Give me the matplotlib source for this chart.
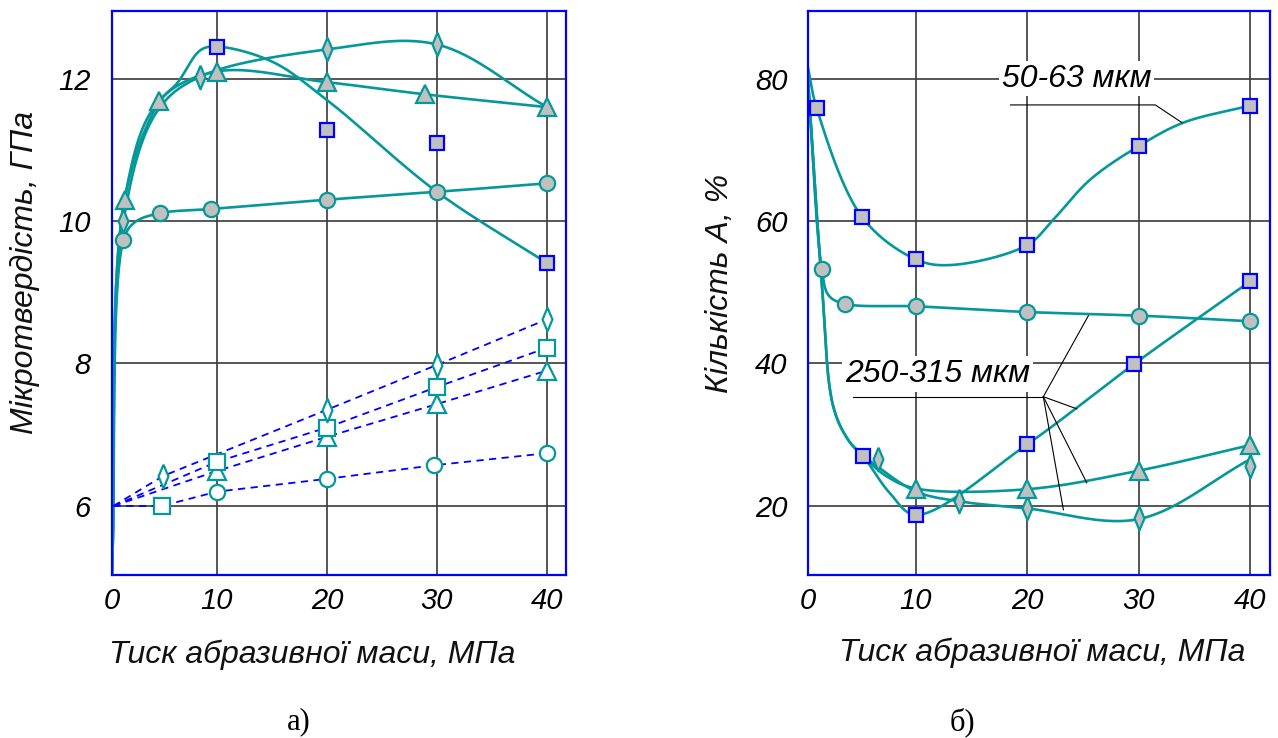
import numpy as np
import matplotlib
matplotlib.use("Agg")
import matplotlib.pyplot as plt

# ---------------- data, panel a) ----------------
# filled markers (solid curves)
a_sq_x = [10, 20, 30, 40]
a_sq_y = [12.45, 11.28, 11.09, 9.41]
a_tri_x = [1.6, 4.7, 10, 20, 28.9, 40]
a_tri_y = [10.3, 11.68, 12.1, 11.95, 11.78, 11.6]
a_dia_x = [1.5, 8.5, 20, 30]
a_dia_y = [10.0, 12.03, 12.41, 12.48]
a_cir_x = [1.5, 4.8, 9.5, 20, 30, 40]
a_cir_y = [9.73, 10.11, 10.17, 10.3, 10.41, 10.53]

# knots of the smooth solid curves
a_sq_cx = [0.45, 1.6, 4.7, 6.4, 8.5, 10, 15, 20, 30, 40]
a_sq_cy = [5.0, 10.3, 11.66, 11.94, 12.4, 12.45, 12.24, 11.7, 10.41, 9.41]
a_tri_cx = [0.45, 1.6, 4.7, 10, 20, 28.9, 40]
a_tri_cy = [5.0, 10.3, 11.68, 12.1, 11.95, 11.78, 11.6]
a_dia_cx = [0.45, 1.5, 4.6, 8.5, 20, 30, 40]
a_dia_cy = [5.0, 10.0, 11.55, 12.03, 12.41, 12.48, 11.6]
a_cir_cx = [0.45, 1.5, 2.5, 4.8, 9.5, 20, 30, 40]
a_cir_cy = [5.0, 9.73, 9.98, 10.11, 10.17, 10.3, 10.41, 10.53]

# open markers (dashed lines)
a_osq_x = [5, 10, 20, 30, 40]
a_osq_y = [6.0, 6.62, 7.1, 7.67, 8.22]
a_otri_x = [10, 20, 30, 40]
a_otri_y = [6.49, 6.97, 7.43, 7.9]
a_odia_x = [5.1, 20, 30, 40]
a_odia_y = [6.42, 7.35, 7.98, 8.62]
a_ocir_x = [10, 20, 29.7, 40]
a_ocir_y = [6.2, 6.38, 6.57, 6.74]

a_osq_lx = [0.6, 10, 20, 30, 40]
a_osq_ly = [6.0, 6.62, 7.1, 7.67, 8.22]
a_otri_lx = [0.6, 10, 20, 30, 40]
a_otri_ly = [6.0, 6.49, 6.97, 7.43, 7.9]
a_odia_lx = [0.6, 5.1, 20, 30, 40]
a_odia_ly = [6.0, 6.42, 7.35, 7.98, 8.62]
a_ocir_lx = [0.6, 5, 10, 20, 29.7, 40]
a_ocir_ly = [6.0, 6.0, 6.2, 6.38, 6.57, 6.74]

# ---------------- data, panel б) ----------------
b_sq1_x = [1.1, 5.2, 10, 20, 30, 40]
b_sq1_y = [75.9, 60.5, 54.6, 56.6, 70.5, 76.2]
b_sq2_x = [5.3, 10, 20, 29.6, 40]
b_sq2_y = [26.9, 18.7, 28.6, 39.9, 51.5]
b_cir_x = [1.56, 3.65, 10, 20, 30, 40]
b_cir_y = [53.3, 48.35, 48.0, 47.2, 46.7, 45.9]
b_tri_x = [10, 20, 30, 40]
b_tri_y = [22.4, 22.3, 24.9, 28.5]
b_dia_x = [6.6, 13.9, 20, 30, 40]
b_dia_y = [26.6, 20.6, 19.6, 18.2, 25.5]

b_sq1_cx = [0.27, 1.1, 5.2, 10, 13.1, 20, 22.35, 25.65, 30, 34, 40]
b_sq1_cy = [82.0, 75.9, 60.5, 54.6, 53.8, 56.6, 60.2, 65.8, 70.5, 73.8, 76.2]
b_sq2_cx = [0.3, 1.55, 2.6, 3.95, 5.3, 7.7, 10, 20, 29.6, 40]
b_sq2_cy = [80.5, 51.7, 33.9, 29.2, 26.9, 21.7, 18.7, 28.6, 39.9, 51.5]
b_cir_cx = [0.3, 1.56, 2.2, 3.65, 10, 20, 30, 40]
b_cir_cy = [80.5, 53.3, 49.5, 48.35, 48.0, 47.2, 46.7, 45.9]
b_tri_cx = [0.3, 1.55, 2.6, 3.95, 5.3, 7.4, 10, 20, 30, 40]
b_tri_cy = [80.5, 51.7, 33.9, 29.2, 26.9, 24.1, 22.4, 22.3, 24.9, 28.5]
b_dia_cx = [5.3, 10, 13.9, 20, 30, 40]
b_dia_cy = [26.9, 22.0, 20.6, 19.6, 18.1, 26.5]

x_ticks = [10, 20, 30, 40]
a_yticks = [6, 8, 10, 12]
b_yticks = [20, 40, 60, 80]

teal = "#05989a"
blue = "#0000ff"
grey = "#c0c0c0"
dia_mark = [(0, 1), (0.42, 0), (0, -1), (-0.42, 0), (0, 1)]


def catmull(xs, ys, sx, sy, n=40):
    # centripetal catmull-rom in screen-like units
    P = np.column_stack([np.asarray(xs, float) * sx, np.asarray(ys, float) * sy])
    P = np.vstack([2 * P[0] - P[1], P, 2 * P[-1] - P[-2]])
    out = []
    for i in range(1, len(P) - 2):
        p0, p1, p2, p3 = P[i - 1], P[i], P[i + 1], P[i + 2]
        t0 = 0.0
        t1 = t0 + np.linalg.norm(p1 - p0) ** 0.5 + 1e-9
        t2 = t1 + np.linalg.norm(p2 - p1) ** 0.5 + 1e-9
        t3 = t2 + np.linalg.norm(p3 - p2) ** 0.5 + 1e-9
        t = np.linspace(t1, t2, n)[:, None]
        a1 = (t1 - t) / (t1 - t0) * p0 + (t - t0) / (t1 - t0) * p1
        a2 = (t2 - t) / (t2 - t1) * p1 + (t - t1) / (t2 - t1) * p2
        a3 = (t3 - t) / (t3 - t2) * p2 + (t - t2) / (t3 - t2) * p3
        b1 = (t2 - t) / (t2 - t0) * a1 + (t - t0) / (t2 - t0) * a2
        b2 = (t3 - t) / (t3 - t1) * a2 + (t - t1) / (t3 - t1) * a3
        c = (t2 - t) / (t2 - t1) * b1 + (t - t1) / (t2 - t1) * b2
        out.append(c)
    out = np.vstack(out)
    return out[:, 0] / sx, out[:, 1] / sy


plt.rcParams['font.family'] = ['Liberation Sans', 'DejaVu Sans']
plt.rcParams['font.style'] = 'italic'

fig = plt.figure(figsize=(12.78, 7.38), dpi=100)
ax1 = fig.add_axes([0.0874, 0.2209, 0.3552, 0.7642])
ax2 = fig.add_axes([0.6325, 0.2209, 0.3613, 0.7642])

ax1.set_xlim(0.43, 41.7)
ax1.set_ylim(5.03, 12.95)
ax1.set_yticks(a_yticks)
ax2.set_xlim(0.36, 41.8)
ax2.set_ylim(10.25, 89.5)
ax2.set_yticks(b_yticks)

for ax in (ax1, ax2):
    for s in ax.spines.values():
        s.set_color(blue)
        s.set_linewidth(1.6)
    ax.set_axisbelow(True)
    ax.grid(True, color="#3a3a3a", lw=1.2)
    ax.tick_params(length=0, labelsize=21)
    ax.tick_params(axis="x", pad=9)
    ax.tick_params(axis="y", pad=15)
    # the "0" label sits on the left spine
    x0 = ax.get_xlim()[0]
    ax.set_xticks([x0] + x_ticks)
    ax.set_xticklabels(["0"] + [str(v) for v in x_ticks])

# ---- panel a
sx1, sy1 = 11.0, 71.2

for cx, cy in [(a_cir_cx, a_cir_cy), (a_dia_cx, a_dia_cy), (a_tri_cx, a_tri_cy), (a_sq_cx, a_sq_cy)]:
    xx, yy = catmull(cx, cy, sx1, sy1)
    ax1.plot(xx, yy, color=teal, lw=1.9, zorder=2)

for lx, ly in [(a_ocir_lx, a_ocir_ly), (a_otri_lx, a_otri_ly), (a_osq_lx, a_osq_ly), (a_odia_lx, a_odia_ly)]:
    ax1.plot(lx, ly, color=blue, lw=1.3, ls=(0, (4, 3)), zorder=2)

ax1.plot(a_cir_x, a_cir_y, ls="none", marker="o", ms=11, mfc=grey, mec=teal, mew=1.6, zorder=3)
ax1.plot(a_dia_x, a_dia_y, ls="none", marker=dia_mark, ms=17, mfc=grey, mec=teal, mew=1.6, zorder=3)
ax1.plot(a_tri_x, a_tri_y, ls="none", marker="^", ms=13, mfc=grey, mec=teal, mew=1.6, zorder=4)
ax1.plot(a_sq_x, a_sq_y, ls="none", marker="s", ms=10, mfc=grey, mec=blue, mew=1.6, zorder=4)

ax1.plot(a_ocir_x, a_ocir_y, ls="none", marker="o", ms=11, mfc="white", mec=teal, mew=1.6, zorder=3)
ax1.plot(a_otri_x, a_otri_y, ls="none", marker="^", ms=13, mfc="white", mec=teal, mew=1.6, zorder=3)
ax1.plot(a_osq_x, a_osq_y, ls="none", marker="s", ms=11, mfc="white", mec=teal, mew=1.6, zorder=3)
ax1.plot(a_odia_x, a_odia_y, ls="none", marker=dia_mark, ms=17, mfc="white", mec=teal, mew=1.6, zorder=3)

# ---- panel б
sx2, sy2 = 11.14, 7.11

for cx, cy in [(b_sq1_cx, b_sq1_cy), (b_sq2_cx, b_sq2_cy), (b_cir_cx, b_cir_cy),
               (b_tri_cx, b_tri_cy), (b_dia_cx, b_dia_cy)]:
    xx, yy = catmull(cx, cy, sx2, sy2)
    ax2.plot(xx, yy, color=teal, lw=1.9, zorder=2)

ax2.plot(b_cir_x, b_cir_y, ls="none", marker="o", ms=11, mfc=grey, mec=teal, mew=1.6, zorder=3)
ax2.plot(b_dia_x, b_dia_y, ls="none", marker=dia_mark, ms=17, mfc=grey, mec=teal, mew=1.6, zorder=3)
ax2.plot(b_tri_x, b_tri_y, ls="none", marker="^", ms=13, mfc=grey, mec=teal, mew=1.6, zorder=3)
ax2.plot(b_sq1_x, b_sq1_y, ls="none", marker="s", ms=10, mfc=grey, mec=blue, mew=1.6, zorder=4)
ax2.plot(b_sq2_x, b_sq2_y, ls="none", marker="s", ms=10, mfc=grey, mec=blue, mew=1.6, zorder=4)

# annotations
ax2.text(24.45, 80.0, "50-63 мкм", fontsize=23, ha="center", va="center", zorder=3,
         bbox=dict(facecolor="white", edgecolor="none", pad=2))
ax2.plot([18.5, 31.5, 33.9], [76.3, 76.3, 73.8], color="black", lw=0.8, zorder=3)

ax2.text(11.96, 38.45, "250-315 мкм", fontsize=23, ha="center", va="center", zorder=3,
         bbox=dict(facecolor="white", edgecolor="none", pad=2))
ax2.plot([4.4, 21.45], [35.3, 35.3], color="black", lw=0.8, zorder=3)
for ex, ey in [(25.5, 46.7), (24.45, 33.6), (25.35, 23.2), (23.25, 19.4)]:
    ax2.plot([21.45, ex], [35.3, ey], color="black", lw=0.8, zorder=3)

# axis labels and captions
lab = dict(fontsize=23, color="#111111", ha="center", va="center")
fig.text(312 / 1278, 1 - 655 / 738, "Тиск абразивної маси, МПа", **lab)
fig.text(1042 / 1278, 1 - 653 / 738, "Тиск абразивної маси, МПа", **lab)
fig.text(25 / 1278, 1 - 272 / 738, "Мікротвердість, ГПа", rotation=90, **lab)
fig.text(720 / 1278, 1 - 283 / 738, "Кількість А, %", rotation=90, **lab)

cap = dict(fontsize=22, ha="center", va="center", family="Liberation Serif", style="normal")
fig.text(299 / 1278, 1 - 722 / 738, "а)", **cap)
fig.text(962 / 1278, 1 - 722 / 738, "б)", **cap)

fig.savefig("out.png", dpi=100)
